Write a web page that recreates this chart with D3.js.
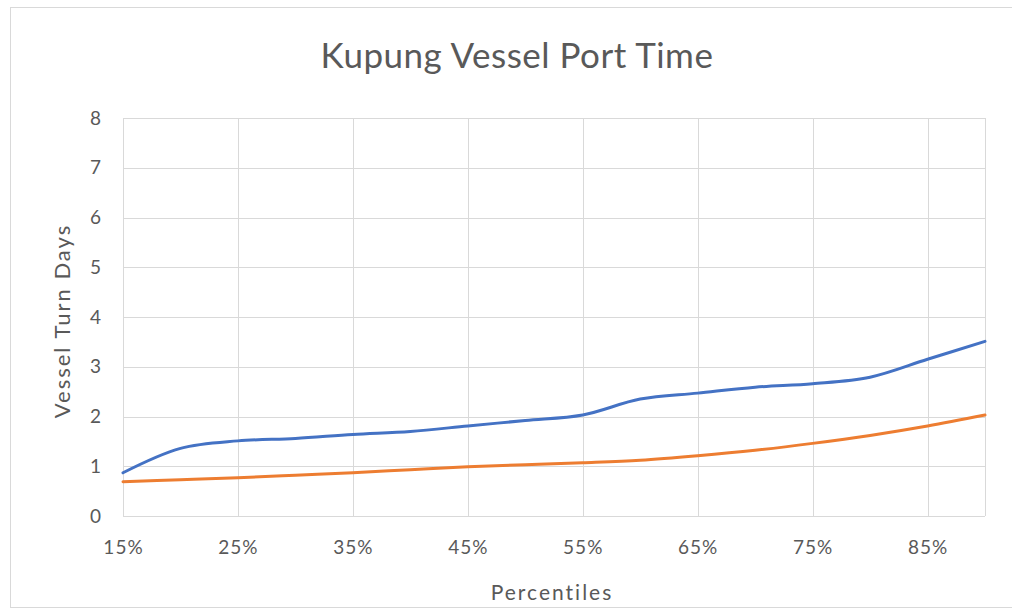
<!DOCTYPE html>
<html>
<head>
<meta charset="utf-8">
<script src="https://cdn.jsdelivr.net/npm/d3@7"></script>
<style>
  html, body { margin: 0; padding: 0; background: #fff; }
  svg { display: block; }
  text { font-family: Lato, "Open Sans", sans-serif; fill: #595959; }
</style>
</head>
<body>
<svg id="chart" width="1012" height="612"></svg>
<script>
// Percentile points along the x axis
const percentiles = [15, 20, 25, 30, 35, 40, 45, 50, 55, 60, 65, 70, 75, 80, 85, 90];
// Vessel turn days at each percentile
const seriesBlue = [0.87, 1.36, 1.51, 1.56, 1.64, 1.70, 1.81, 1.92, 2.03, 2.35, 2.47, 2.59, 2.66, 2.79, 3.15, 3.51];
const seriesOrange = [0.69, 0.73, 0.77, 0.82, 0.87, 0.93, 0.99, 1.03, 1.07, 1.12, 1.21, 1.32, 1.46, 1.62, 1.81, 2.03];
const xTicks = [15, 25, 35, 45, 55, 65, 75, 85];
const yTicks = [0, 1, 2, 3, 4, 5, 6, 7, 8];

const svg = d3.select("#chart");
const plot = { left: 123, right: 985, top: 118, bottom: 516 };

// Outer chart frame
svg.append("rect")
  .attr("x", 10.5).attr("y", 7.5)
  .attr("width", 1010).attr("height", 600)
  .attr("fill", "#fff").attr("stroke", "#d9d9d9").attr("stroke-width", 1);

const x = d3.scaleLinear().domain([15, 90]).range([plot.left, plot.right]);
const y = d3.scaleLinear().domain([0, 8]).range([plot.bottom, plot.top]);

// Horizontal gridlines
svg.append("g")
  .selectAll("line")
  .data(yTicks)
  .join("line")
  .attr("x1", plot.left).attr("x2", plot.right)
  .attr("y1", d => Math.round(y(d)) + 0.5).attr("y2", d => Math.round(y(d)) + 0.5)
  .attr("stroke", "#d9d9d9").attr("stroke-width", 1);

// Vertical gridlines (tick positions plus the right edge)
svg.append("g")
  .selectAll("line")
  .data(xTicks.concat([90]))
  .join("line")
  .attr("x1", d => Math.round(x(d)) + 0.5).attr("x2", d => Math.round(x(d)) + 0.5)
  .attr("y1", plot.top).attr("y2", plot.bottom)
  .attr("stroke", "#d9d9d9").attr("stroke-width", 1);

// Y axis tick labels
const yAxis = d3.axisLeft(y).tickValues(yTicks).tickSize(0).tickPadding(0);
const gy = svg.append("g").attr("transform", `translate(${plot.left - 22},0)`).call(yAxis);
gy.select(".domain").remove();
gy.selectAll("text").attr("font-size", 19).style("fill", "#595959")
  .attr("font-family", "Lato, 'Open Sans', sans-serif");

// X axis tick labels
const xAxis = d3.axisBottom(x).tickValues(xTicks).tickFormat(d => d + "%").tickSize(0).tickPadding(0);
const gx = svg.append("g").attr("transform", `translate(0,${plot.bottom + 24})`).call(xAxis);
gx.select(".domain").remove();
gx.selectAll("text").attr("font-size", 19).attr("letter-spacing", 1).style("fill", "#595959")
  .attr("font-family", "Lato, 'Open Sans', sans-serif");

// Series lines
const line = d3.line()
  .x((d, i) => x(percentiles[i]))
  .y(d => y(d))
  .curve(d3.curveCatmullRom.alpha(0.5));

svg.append("path").datum(seriesOrange)
  .attr("d", line).attr("fill", "none")
  .attr("stroke", "#ED7D31").attr("stroke-width", 3).attr("stroke-linecap", "round");

svg.append("path").datum(seriesBlue)
  .attr("d", line).attr("fill", "none")
  .attr("stroke", "#4472C4").attr("stroke-width", 3).attr("stroke-linecap", "round");

// Title
svg.append("text")
  .attr("x", 517).attr("y", 68)
  .attr("text-anchor", "middle")
  .attr("font-size", 35)
  .attr("letter-spacing", 0.5)
  .text("Kupung Vessel Port Time");

// Axis titles
svg.append("text")
  .attr("x", 552).attr("y", 600)
  .attr("text-anchor", "middle")
  .attr("font-size", 21)
  .attr("letter-spacing", 2)
  .text("Percentiles");

svg.append("text")
  .attr("transform", "translate(70,321) rotate(-90)")
  .attr("text-anchor", "middle")
  .attr("font-size", 22)
  .attr("letter-spacing", 2)
  .text("Vessel Turn Days");
</script>
</body>
</html>
